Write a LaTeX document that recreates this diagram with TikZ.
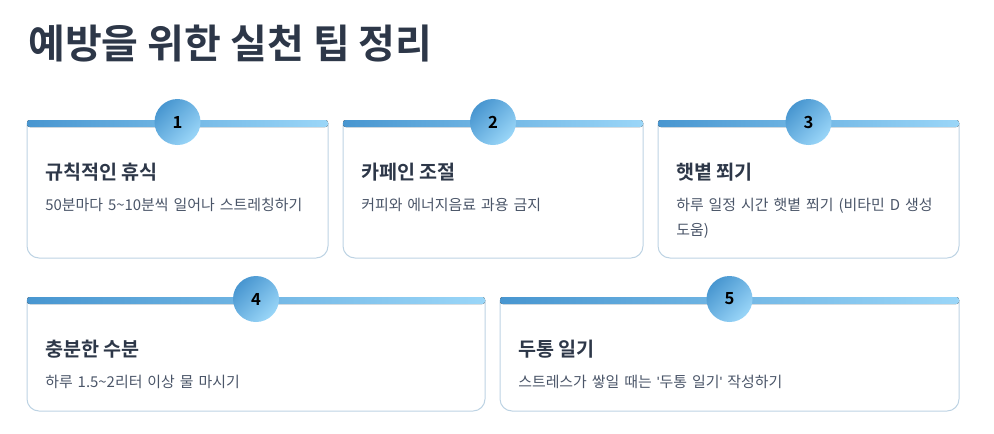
\documentclass[tikz,border=0pt]{standalone}
\usepackage{fontspec}
\setmainfont{Noto Sans CJK KR}
\newfontfamily\krb{Noto Sans CJK KR Bold}
\newfontfamily\qf{Liberation Sans}
\definecolor{ink}{HTML}{2D3748}
\definecolor{body}{HTML}{4A5568}
\definecolor{edge}{HTML}{BDD3E3}
\definecolor{gA}{HTML}{4896D0}
\definecolor{gB}{HTML}{9AD6F8}
\tikzset{
  cardedge/.style={draw=edge, line width=0.75pt, rounded corners=9pt},
  topbar/.style={left color=gA, right color=gB, rounded corners=2pt},
  badge/.style={circle, minimum size=34.5pt, inner sep=0pt, shading=axis, left color=gA, right color=gB, shading angle=45, font=\krb\fontsize{12.5}{14}\selectfont, text=black},
  ctitle/.style={anchor=west, inner sep=0pt, text=ink, font=\krb\fontsize{14.7}{17}\selectfont},
  cdesc/.style={anchor=north west, inner sep=0pt, text=body, font=\fontsize{11.2}{19}\selectfont, align=left},
}
\newcommand{\mycard}[9]{%
  \draw[cardedge] (#2,#3+3) -- (#2,#3+#5) -- (#2+#4,#3+#5) -- (#2+#4,#3+3);
  \fill[topbar] (#2,#3) rectangle (#2+#4,#3+7);
  \node[badge] (#1b) at (#2+#4/2,#3+2) {#6};
  \node[ctitle] (#1t) at (#2+18,#3+52) {#7};
  \node[cdesc, text width=#9] (#1d) at (#2+18,#3+78) {#8};
}
\begin{document}
\begin{tikzpicture}[x=0.75pt,y=-0.75pt]
\useasboundingbox (0,0) rectangle (994,433);
\node[anchor=west, inner sep=0pt, text=ink, font=\krb\fontsize{30}{34}\selectfont] (title) at (28,44) {예방을 위한 실천 팁 정리};
\mycard{c1}{27}{120}{301}{138}{1}{규칙적인 휴식}{50분마다 5\textasciitilde10분씩 일어나 스트레칭하기}{210pt}
\mycard{c2}{343}{120}{300}{138}{2}{카페인 조절}{커피와 에너지음료 과용 금지}{210pt}
\mycard{c3}{658}{120}{301}{138}{3}{햇볕 쬐기}{하루 일정 시간 햇볕 쬐기 (비타민 D 생성 도움)}{200pt}
\mycard{c4}{27}{297}{458}{114}{4}{충분한 수분}{하루 1.5\textasciitilde2리터 이상 물 마시기}{330pt}
\mycard{c5}{500}{297}{459}{114}{5}{두통 일기}{스트레스가 쌓일 때는 {\qf\symbol{39}}두통 일기{\qf\symbol{39}} 작성하기}{330pt}
\end{tikzpicture}
\end{document}
